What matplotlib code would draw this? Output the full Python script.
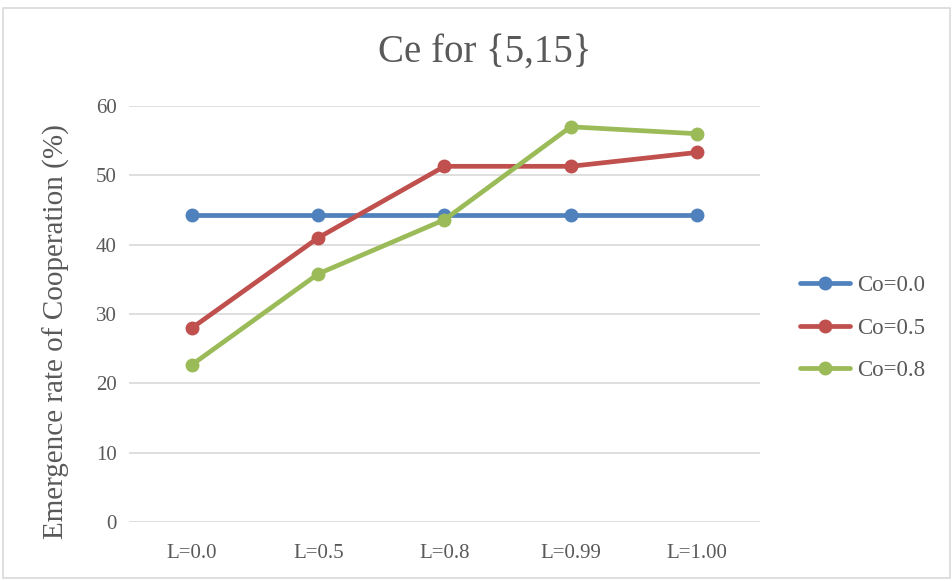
import matplotlib
matplotlib.use("Agg")
import matplotlib.pyplot as plt
from matplotlib.patches import Rectangle

categories = ["L=0.0", "L=0.5", "L=0.8", "L=0.99", "L=1.00"]
series_names = ["Co=0.0", "Co=0.5", "Co=0.8"]
co00 = [44.3, 44.3, 44.3, 44.3, 44.3]
co05 = [28.0, 41.0, 51.3, 51.3, 53.3]
co08 = [22.7, 35.8, 43.6, 57.0, 56.0]
colors = ["#4F81BD", "#C0504D", "#9BBB59"]
title = "Ce for {5,15}"
ylabel = "Emergence rate of Cooperation (%)"
yticks = [0, 10, 20, 30, 40, 50, 60]

plt.rcParams['font.family'] = ['Liberation Serif', 'DejaVu Serif']
txt = "#595959"

fig = plt.figure(figsize=(9.53, 5.81), dpi=100)
fig.patches.append(Rectangle((3/953, 3/581), 947/953, 570/581, transform=fig.transFigure,
                             fill=False, edgecolor="#D9D9D9", linewidth=1.2))

ax = fig.add_axes([129/953, 1-522/581, 631/953, 416/581])
x = list(range(len(categories)))
for vals, name, c in zip([co00, co05, co08], series_names, colors):
    ax.plot(x, vals, color=c, linewidth=3.4, marker='o', markersize=9,
            solid_capstyle='round', label=name)

ax.set_xlim(-0.5, len(categories) - 0.5)
ax.set_ylim(0, 60)
ax.set_yticks(yticks)
ax.set_xticks(x)
ax.set_xticklabels(categories)
ax.grid(axis='y', color="#D9D9D9", linewidth=1.2)
ax.set_axisbelow(True)
for s in ax.spines.values():
    s.set_visible(False)
ax.tick_params(axis='both', length=0, labelsize=15, colors=txt, pad=9)
ax.tick_params(axis='x', pad=16)
ax.set_ylabel(ylabel, fontsize=21, color=txt)
ax.yaxis.set_label_coords((70 - 129) / 631, (522 - 332) / 416)
fig.text(485/953, 1-52/581, title, fontsize=28, color=txt, ha='center', va='center')

leg = ax.legend(loc='center left', bbox_to_anchor=((800-129)/631, (522-328)/416),
                frameon=False, fontsize=16.5, labelcolor=txt, handlelength=2.2,
                handletextpad=0.3, labelspacing=0.95, borderpad=0, borderaxespad=0)

fig.savefig("out.png", dpi=100)
